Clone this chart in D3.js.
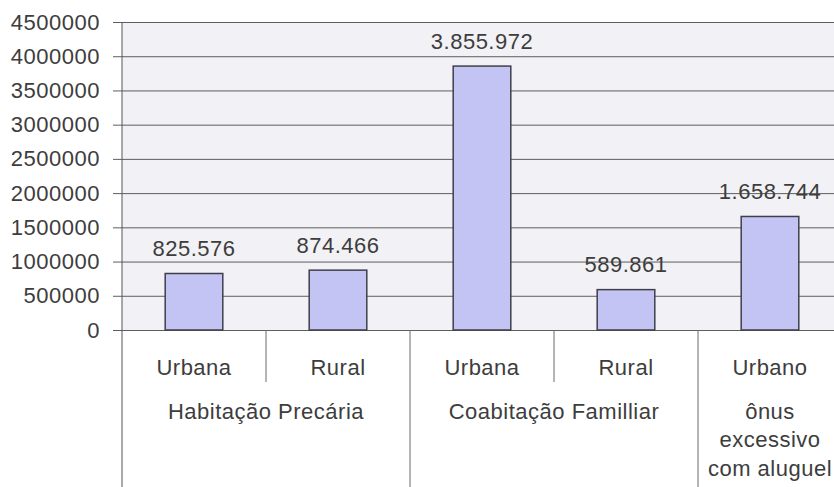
<!DOCTYPE html>
<html>
<head>
<meta charset="utf-8">
<script src="https://cdnjs.cloudflare.com/ajax/libs/d3/7.8.5/d3.min.js"></script>
<style>
  body { margin: 0; background: #fff; }
  svg text { font-family: "Liberation Sans", Arial, sans-serif; fill: #3d3d3d; letter-spacing: 0.5px; }
</style>
</head>
<body>
<div id="chart"></div>
<script>
// data
const subLabels = ['Urbana', 'Rural', 'Urbana', 'Rural', 'Urbano'];
const values = [825576, 874466, 3855972, 589861, 1658744];
const valueLabels = ['825.576', '874.466', '3.855.972', '589.861', '1.658.744'];
const groupNames = [['Habitação Precária'], ['Coabitação Familliar'], ['ônus', 'excessivo', 'com aluguel']];
const groupSizes = [2, 2, 1];
const yTicks = [0, 500000, 1000000, 1500000, 2000000, 2500000, 3000000, 3500000, 4000000, 4500000];

const width = 834;
const height = 487;
const margin = { top: 22, left: 122, bottom: 157 };
const plotRight = 842;
const baseY = height - margin.bottom;

d3.select('#chart').selectAll('svg').remove();

const svg = d3.select('#chart')
  .append('svg')
  .attr('width', width)
  .attr('height', height);

// scales
const x = d3.scaleBand()
  .domain(d3.range(values.length))
  .range([margin.left, plotRight])
  .paddingInner(0.6)
  .paddingOuter(0.3);

const y = d3.scaleLinear()
  .domain([0, 4500000])
  .range([baseY, margin.top]);

const step = x.step();

// plot background
svg.append('rect')
  .attr('x', margin.left)
  .attr('y', margin.top)
  .attr('width', plotRight - margin.left)
  .attr('height', baseY - margin.top)
  .attr('fill', '#f2f1f5');

// gridlines + y axis
const yAxis = svg.append('g')
  .attr('transform', `translate(${margin.left},0)`)
  .call(d3.axisLeft(y).tickValues(yTicks).tickFormat(d3.format('d')).tickSize(9).tickPadding(13));

yAxis.select('.domain').remove();
yAxis.selectAll('.tick line')
  .attr('x2', plotRight - margin.left)
  .attr('x1', -9)
  .attr('stroke', '#5e5e5e');
yAxis.selectAll('.tick text')
  .style('font-size', '22px')
  .attr('fill', '#3d3d3d');

// left axis line down to the bottom of the category table
svg.append('line')
  .attr('x1', margin.left).attr('x2', margin.left)
  .attr('y1', margin.top).attr('y2', height)
  .attr('stroke', '#555');

// bars
svg.selectAll('.bar')
  .data(values)
  .enter()
  .append('rect')
  .attr('class', 'bar')
  .attr('x', (d, i) => x(i))
  .attr('y', d => y(d))
  .attr('width', x.bandwidth())
  .attr('height', d => baseY - y(d))
  .attr('fill', '#c4c4f4')
  .attr('stroke', '#3f3f4a')
  .attr('stroke-width', 1.5);

// value labels
svg.selectAll('.vlabel')
  .data(values)
  .enter()
  .append('text')
  .attr('class', 'vlabel')
  .attr('x', (d, i) => x(i) + x.bandwidth() / 2)
  .attr('y', d => y(d) - 25)
  .attr('dy', '.35em')
  .style('text-anchor', 'middle')
  .style('font-size', '22px')
  .text((d, i) => valueLabels[i]);

// category table: sub labels
svg.selectAll('.sub')
  .data(subLabels)
  .enter()
  .append('text')
  .attr('class', 'sub')
  .attr('x', (d, i) => x(i) + x.bandwidth() / 2)
  .attr('y', baseY + 37)
  .attr('dy', '.35em')
  .style('text-anchor', 'middle')
  .style('font-size', '22px')
  .text(d => d);

// dividers and group labels
let start = 0;
groupSizes.forEach((n, g) => {
  const x0 = margin.left + start * step;
  const x1 = margin.left + (start + n) * step;
  // short dividers inside a group
  for (let k = 1; k < n; k++) {
    const xs = margin.left + (start + k) * step;
    svg.append('line')
      .attr('x1', xs).attr('x2', xs)
      .attr('y1', baseY).attr('y2', baseY + 52)
      .attr('stroke', '#6a6a6a');
  }
  // group end divider
  svg.append('line')
    .attr('x1', x1).attr('x2', x1)
    .attr('y1', baseY).attr('y2', height)
    .attr('stroke', '#6a6a6a');

  const lines = groupNames[g];
  lines.forEach((t, j) => {
    svg.append('text')
      .attr('x', (x0 + x1) / 2)
      .attr('y', baseY + 81 + j * 28.5)
      .attr('dy', '.35em')
      .style('text-anchor', 'middle')
      .style('font-size', '22px')
      .text(t);
  });
  start += n;
});
</script>
</body>
</html>
